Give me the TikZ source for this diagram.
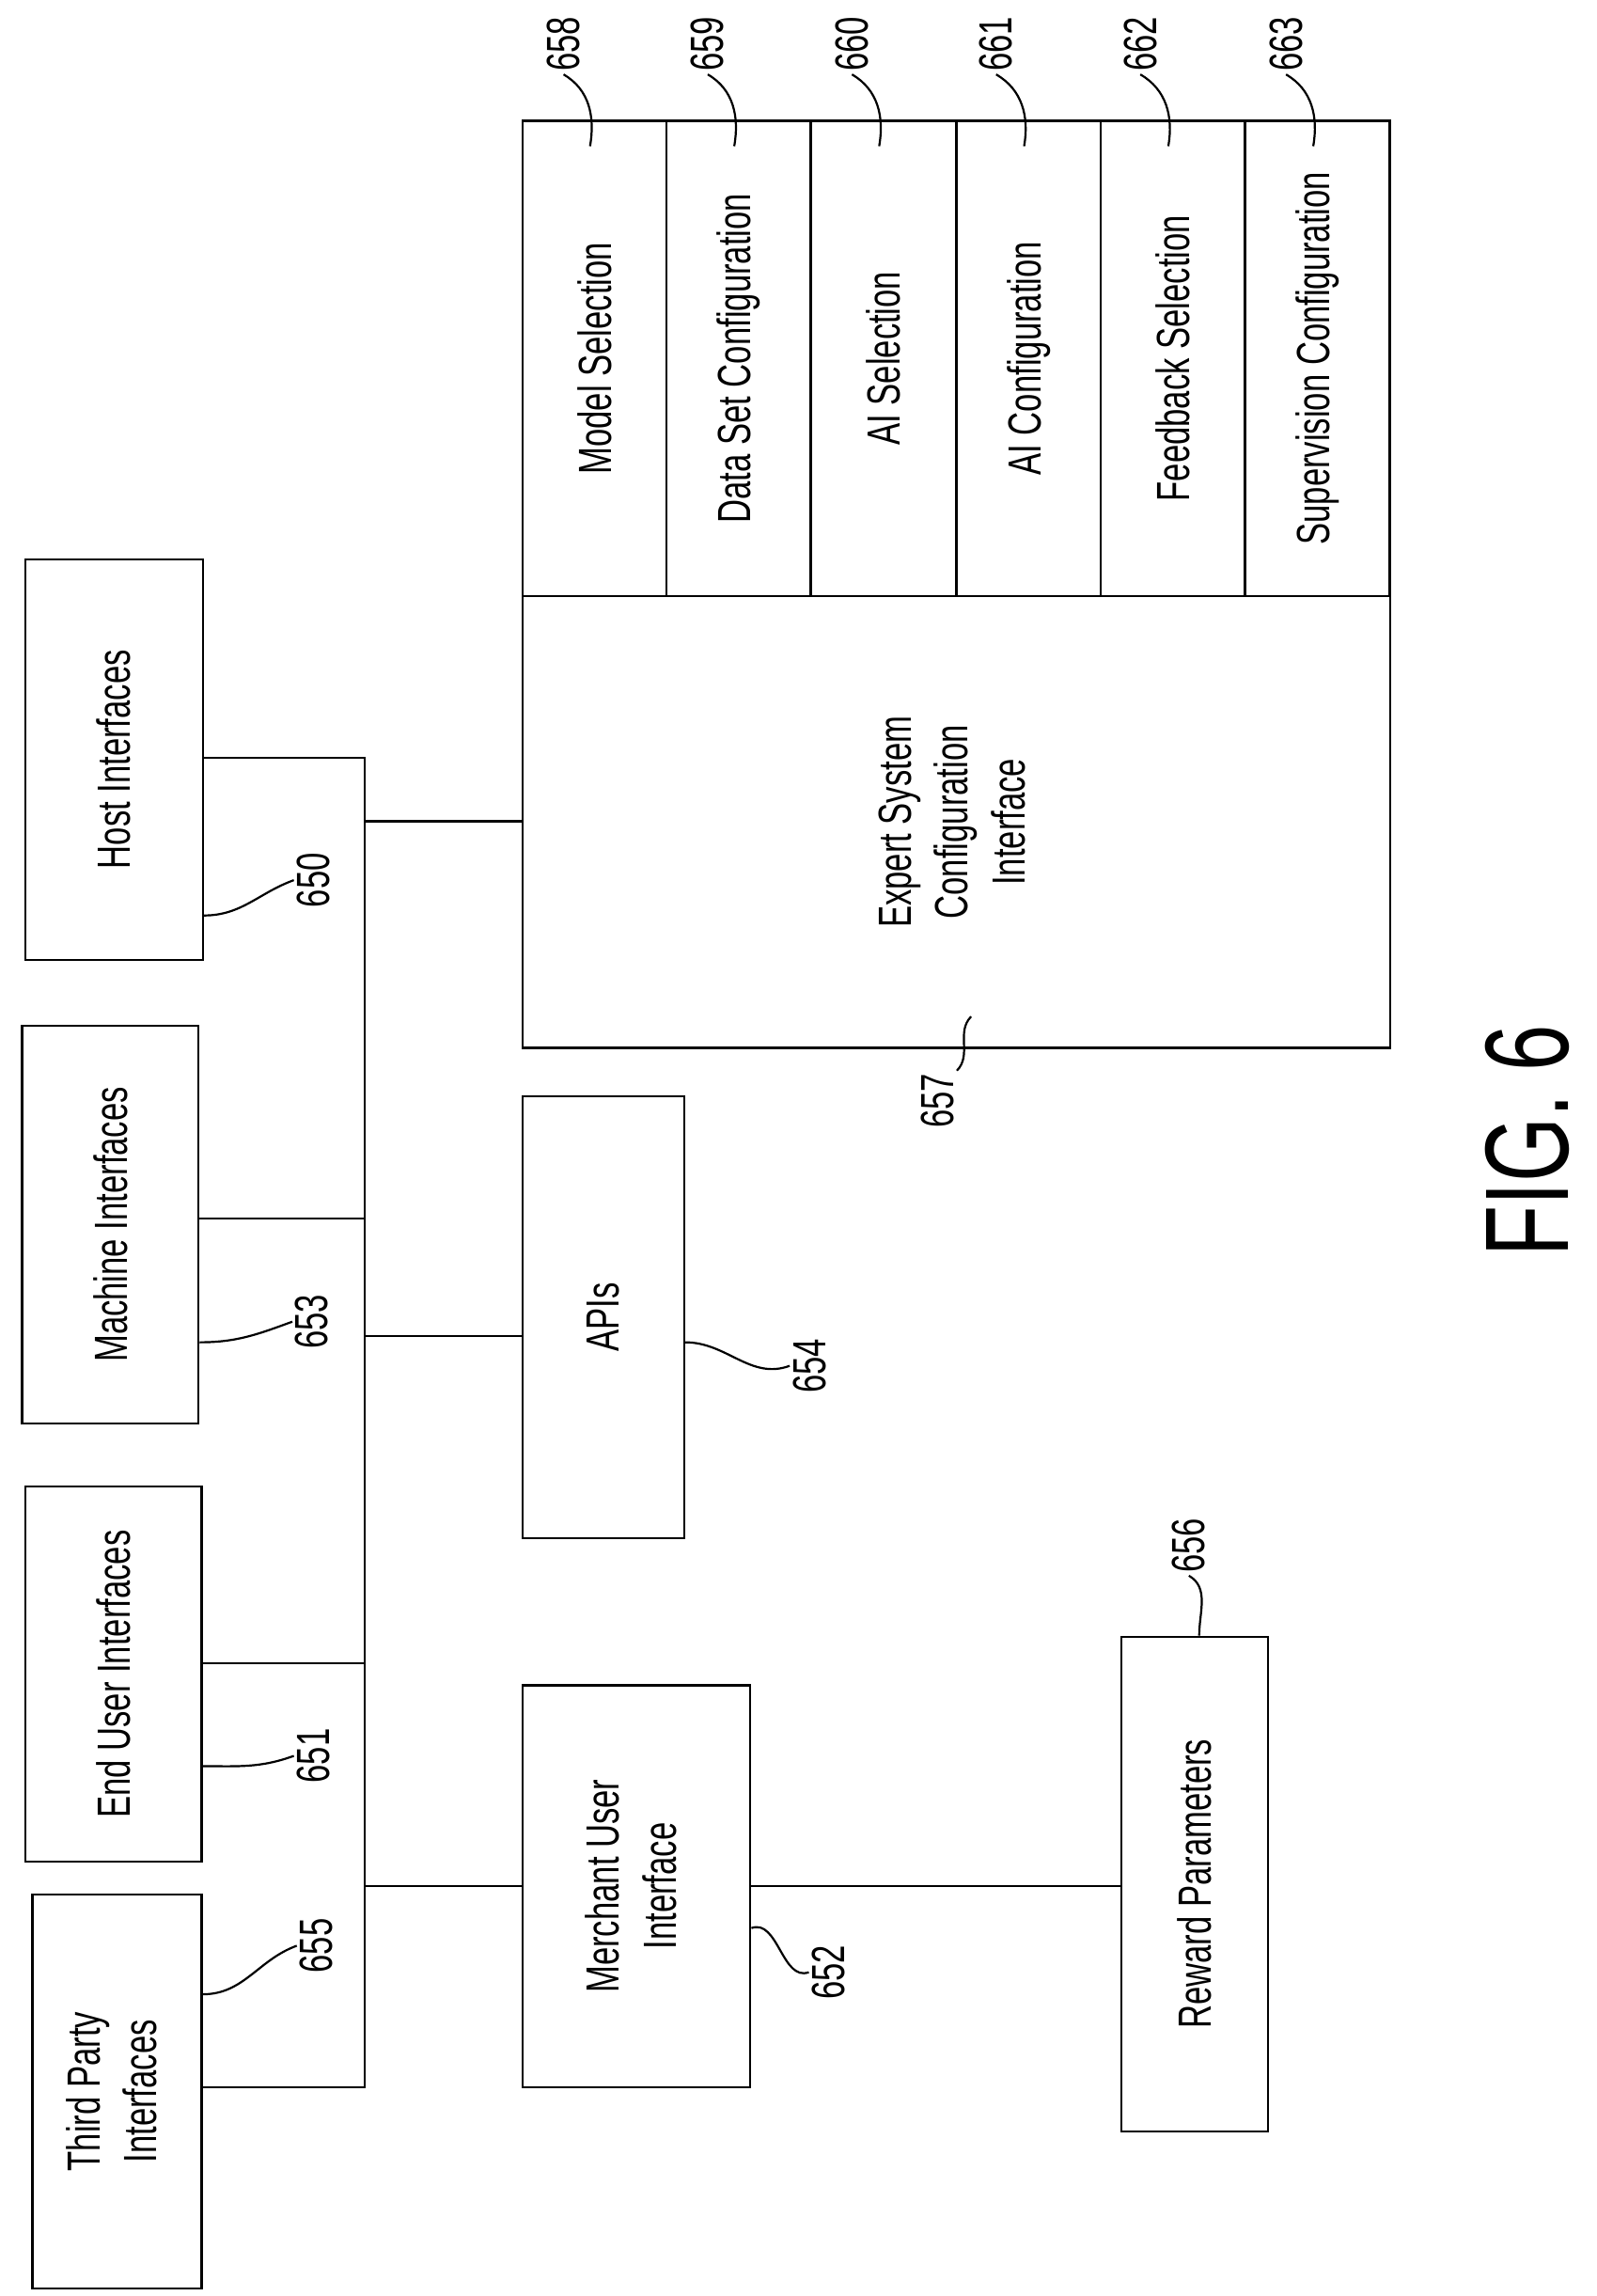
\documentclass[tikz,border=0pt]{standalone}
\usepackage{fontspec}
\setmainfont[FakeStretch=0.7]{Liberation Sans}
\usepackage{tikz}
\usetikzlibrary{positioning}

\begin{document}
\begin{tikzpicture}
    [x=0.02cm,y=-0.02cm,
    box/.style={draw,thick,inner sep=0pt,font=\fontsize{18}{22}\selectfont},
    num/.style={inner sep=1pt,font=\fontsize{18}{22}\selectfont},
    lead/.style={thick}]
    \useasboundingbox (0,0) rectangle (1085,1560);
    % left column of interfaces
    \node[box,minimum width=2.42cm,minimum height=5.44cm] (host) at (77.5,516) {\rotatebox{90}{Host Interfaces}};
    \node[box,minimum width=2.40cm,minimum height=5.40cm] (machine) at (75,832) {\rotatebox{90}{Machine Interfaces}};
    \node[box,minimum width=2.40cm,minimum height=5.10cm] (enduser) at (77,1137.5) {\rotatebox{90}{End User Interfaces}};
    \node[box,minimum width=2.30cm,minimum height=5.36cm] (third) at (79.5,1421) {\rotatebox{90}{\begin{tabular}{c}Third Party\\Interfaces\end{tabular}}};
    % middle
    \node[box,minimum width=2.2cm,minimum height=6.0cm] (apis) at (410,895) {\rotatebox{90}{APIs}};
    \node[box,minimum width=3.1cm,minimum height=5.46cm] (merchant) at (432.5,1281.5) {\rotatebox{90}{\begin{tabular}{c}Merchant User\\Interface\end{tabular}}};
    \node[box,minimum width=2.0cm,minimum height=6.72cm] (reward) at (812,1280) {\rotatebox{90}{Reward Parameters}};
    % expert system
    \node[box,minimum width=11.8cm,minimum height=6.14cm] (expert) at (650,558.5) {\rotatebox{90}{\begin{tabular}{c}Expert System\\Configuration\\Interface\end{tabular}}};
    \foreach \cx/\nm/\txt in {404/model/Model Selection,502/dataset/Data Set  Configuration,600.5/aisel/AI Selection,
        699/aiconf/AI Configuration,797/feedback/Feedback Selection,895.5/superv/Supervision Configuration}
        \node[box,minimum width=1.96cm,minimum height=6.46cm] (\nm) at (\cx,243.5) {\rotatebox{90}{\txt}};
    % bus
    \coordinate (bt) at (248,515);
    \coordinate (bb) at (248,1418);
    \draw[thick] (host.east |- bt) -- (bt) -- (bb) -- (third.east |- bb);
    \draw[thick] (machine.east |- 0,828) -- (bt |- 0,828);
    \draw[thick] (enduser.east |- 0,1130) -- (bt |- 0,1130);
    \draw[thick] (bt |- 0,558) -- (expert.west |- 0,558);
    \draw[thick] (bt |- 0,908) -- (apis.west |- 0,908);
    \draw[thick] (bt |- merchant.west) -- (merchant.west);
    \draw[thick] (merchant.east) -- (reward.west |- merchant.east);
    % reference numerals
    \node[num] (n650) at (213,598) {\rotatebox{90}{650}};
    \node[num] (n653) at (212,898) {\rotatebox{90}{653}};
    \node[num] (n651) at (213,1193) {\rotatebox{90}{651}};
    \node[num] (n655) at (215,1322) {\rotatebox{90}{655}};
    \node[num] (n654) at (550,928) {\rotatebox{90}{654}};
    \node[num] (n652) at (563,1340) {\rotatebox{90}{652}};
    \node[num] (n656) at (808,1050) {\rotatebox{90}{656}};
    \node[num] (n657) at (637,748) {\rotatebox{90}{657}};
    \draw[lead] (host.east |- 0,622) to[out=0,in=200] (n650.west);
    \draw[lead] (machine.east |- 0,912) to[out=0,in=200] (n653.west);
    \draw[lead] (enduser.east |- 0,1200) to[out=0,in=200] (n651.west);
    \draw[lead] (third.east |- 0,1355) to[out=0,in=200] (n655.west);
    \draw[lead] (apis.east |- 0,912) to[out=0,in=200] (n654.west);
    \draw[lead] (merchant.east |- 0,1310) to[out=20,in=200] (n652.west);
    \draw[lead] (reward.north) ++(3,0) to[out=90,in=-30] (n656.south);
    \draw[lead] (expert.south) ++(10,-22) to[out=225,in=45] (n657.north east);
    \foreach \nm/\num/\cx in {model/658/383,dataset/659/481,aisel/660/579,aiconf/661/677,feedback/662/775,superv/663/874}{
        \node[num] (n\num) at (\cx,30) {\rotatebox{90}{\num}};
        \draw[lead] (\nm.north) ++(-3,18) to[out=80,in=-30] (n\num.south);
    }
    \node[font=\fontsize{46}{56}\selectfont,inner sep=0pt] (fig) at (1038,775) {\rotatebox{90}{FIG. 6}};
\end{tikzpicture}
\end{document}
